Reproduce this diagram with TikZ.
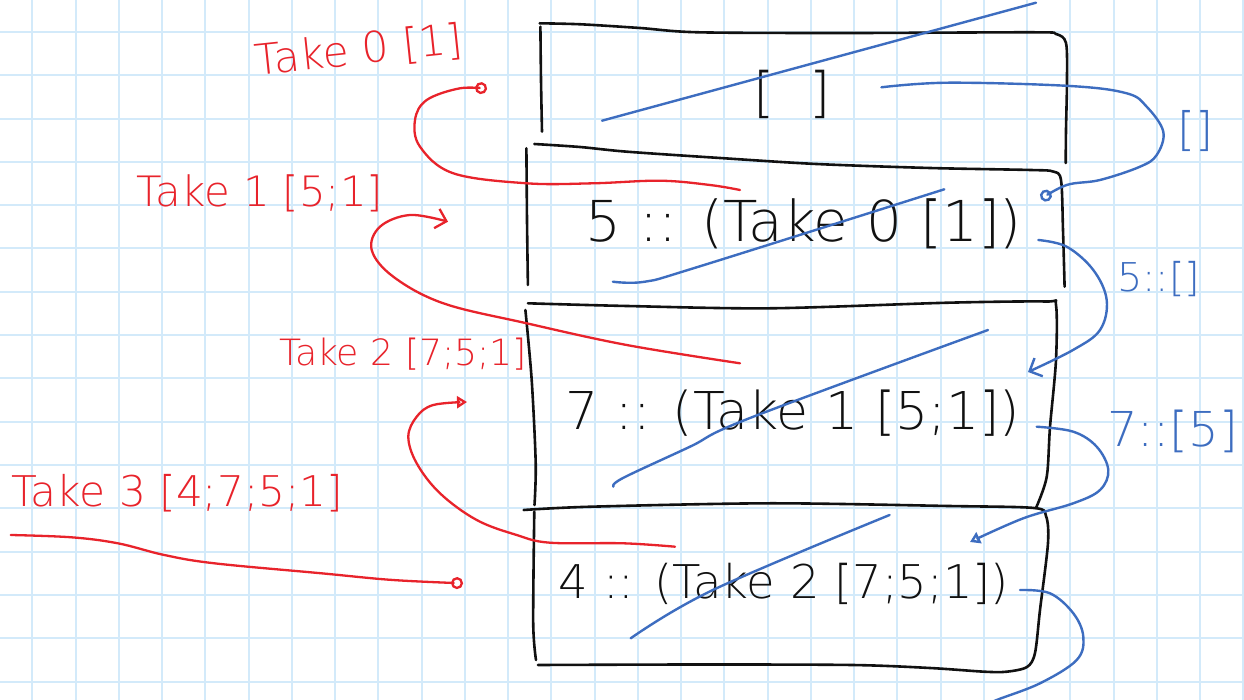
\documentclass[tikz,border=0pt]{standalone}
\usepackage{fontspec}
\usepackage{graphicx}
\usetikzlibrary{arrows.meta}
\IfFontExistsTF{DejaVuSans-ExtraLight.ttf}
  {\newfontfamily\handfont{DejaVuSans-ExtraLight.ttf}}
  {\IfFontExistsTF{DejaVu Sans ExtraLight}
    {\newfontfamily\handfont{DejaVu Sans ExtraLight}}
    {\newcommand\handfont{\sffamily}}}
\definecolor{ink}{HTML}{111111}
\definecolor{penred}{HTML}{E8232B}
\definecolor{penblue}{HTML}{3D6DC0}
\definecolor{gridblue}{HTML}{D3EAFA}
\newlength\pxu \setlength\pxu{0.5pt}
% #1 = width in px, #2 = measured height in px (for reference), #3 = text
\newcommand\hw[3]{\resizebox{#1\pxu}{!}{\handfont #3}}
\begin{document}
\begin{tikzpicture}[x=0.5pt,y=-0.5pt,
  gridline/.style={gridblue, line width=1pt},
  blackpen/.style={ink, line width=1.3pt, line cap=round, line join=round},
  redpen/.style={penred, line width=1.15pt, line cap=round, line join=round},
  bluepen/.style={penblue, line width=1.2pt, line cap=round, line join=round},
  redtxt/.style={penred, inner sep=0pt},
  bluetxt/.style={penblue, inner sep=0pt},
  blacktxt/.style={ink, inner sep=0pt},
  circtip/.style={-{Circle[open,length=6pt]}},
  barbtip/.style={-{Straight Barb[length=5pt,width=10pt]}},
  tritip/.style={-{Triangle[open,length=5pt,width=6pt]}}
]
\useasboundingbox (0,0) rectangle (1244,700);
\clip (0,0) rectangle (1244,700);
\fill[white] (0,0) rectangle (1244,700);
% grid paper
\foreach \i in {0,...,28} \draw[gridline] ({32.3+43.25*\i},0) -- ({32.3+43.25*\i},700);
\foreach \j in {0,...,15} \draw[gridline] (0,{32+43.3*\j}) -- (1244,{32+43.3*\j});

% ---------- black boxes (hand drawn) ----------
% box 1
\draw[blackpen] plot[smooth,tension=0.5] coordinates {(539.6,23.3) (580.7,24.3) (640,28) (698.6,32.3) (850,33) (1034,32.3) (1056,34) (1066,43) (1067,80) (1066,130) (1065.7,163)};
\draw[blackpen] plot[smooth,tension=0.5] coordinates {(540.4,26.7) (541,80) (542,131.7)};
% box 2
\draw[blackpen] plot[smooth,tension=0.5] coordinates {(534.3,144) (580,147) (627,151.7) (720,158) (816.4,164) (930,168) (1030.7,170) (1053,171.5) (1061,180) (1063,230) (1064.6,286.7)};
\draw[blackpen] plot[smooth,tension=0.5] coordinates {(526.4,148.3) (527,220) (527.9,285)};
% box 3
\draw[blackpen] plot[smooth,tension=0.5] coordinates {(527.9,303.3) (627,306) (770,308.3) (948.6,302.7) (1046,301.5) (1056,305) (1056,360) (1050,427) (1046.7,477) (1036,508)};
\draw[blackpen] plot[smooth,tension=0.5] coordinates {(525.4,310) (531.7,380) (535.7,463) (534.5,505)};
% box 4
\draw[blackpen] plot[smooth,tension=0.5] coordinates {(523.6,510) (591.4,506.7) (770,503.3) (948.6,506) (1034,508) (1046,516) (1048,543) (1040,610) (1035,653) (1027,667) (1006.7,671.7) (984.3,671.7) (930,668) (852,665) (700,664.5) (537.9,665)};
\draw[blackpen] plot[smooth,tension=0.5] coordinates {(534.3,511.7) (533.2,623) (536,660)};

% ---------- black texts ----------
\node[blacktxt] (b1) at (792,94) {\hw{77}{50}{[\ \ ]}};
\node[blacktxt] (b2) at (804,223.5) {\hw{436}{67}{5 :: (Take 0 [1])}};
\node[blacktxt] (b3) at (793,413.5) {\hw{454}{73}{7 :: (Take 1 [5;1])}};
\node[blacktxt] (b4) at (784,584) {\hw{450}{62}{4 :: (Take 2 [7;5;1])}};

% ---------- blue strike-throughs ----------
\draw[bluepen] (602,120.7) -- (1036,2.7);
\draw[bluepen] plot[smooth,tension=0.6] coordinates {(612.9,281.7) (645,281.7) (698.6,266.7) (944.3,189.3)};
\draw[bluepen] plot[smooth,tension=0.6] coordinates {(613.3,486.7) (623,478) (690,446.7) (750,418) (988,330)};
\draw[bluepen] plot[smooth,tension=0.6] coordinates {(630.7,638.3) (712.9,590) (889.6,515)};

% ---------- red labels ----------
\node[redtxt, rotate=6] (t0) at (359,51) {\hw{208}{38}{Take 0 [1]}};
\node[redtxt] (t1) at (260,193.5) {\hw{246}{43}{Take 1 [5;1]}};
\node[redtxt] (t2) at (403,354) {\hw{248}{42}{Take 2 [7;5;1]}};
\node[redtxt] (t3) at (177.5,493.5) {\hw{331}{53}{Take 3 [4;7;5;1]}};

% ---------- red arrows ----------
\coordinate (ra0s) at (740,190);   \coordinate (ra0e) at (487,89);
\coordinate (ra1s) at (740,363.3); \coordinate (ra1e) at (448,221.7);
\coordinate (ra2s) at (675,546.7); \coordinate (ra2e) at (467,402);
\coordinate (ra3s) at (10.7,535);  \coordinate (ra3e) at (463,583.3);
\draw[redpen, circtip] plot[smooth,tension=0.6] coordinates {(ra0s) (710,185) (660,180.7) (593.3,183.3) (526.7,183.3) (453.3,173.3) (420,146.7) (415,120) (426.7,100) (460,88.3) (ra0e)};
\draw[redpen, barbtip] plot[smooth,tension=0.6] coordinates {(ra1s) (626.7,345) (526.7,323.3) (443.3,303.3) (393.3,276.7) (371.7,250) (380,226.7) (410,215) (ra1e)};
\draw[redpen, tritip] plot[smooth,tension=0.6] coordinates {(ra2s) (623.3,543.3) (550,542.7) (516.7,535) (476.7,520) (440,493.3) (416.7,463.3) (408.3,436.7) (416.7,416.7) (433.3,405) (ra2e)};
\draw[redpen, circtip] plot[smooth,tension=0.6] coordinates {(ra3s) (71.4,537.3) (117.9,543.3) (164.3,555) (214.3,563.3) (321.4,573.3) (392.9,580) (ra3e)};

% ---------- blue labels ----------
\node[bluetxt] (l1) at (1195,131.5) {\hw{36}{37}{[]}};
\node[bluetxt] (l2) at (1158.5,279) {\hw{83}{32}{5::[]}};
\node[bluetxt] (l3) at (1172.5,431.5) {\hw{131}{47}{7::[5]}};

% ---------- blue arrows ----------
\coordinate (ba0s) at (881.4,87.3);   \coordinate (ba0e) at (1041,199);
\coordinate (ba1s) at (1038.3,240);   \coordinate (ba1e) at (1028,372);
\coordinate (ba2s) at (1036.7,426.7); \coordinate (ba2e) at (970,542);
\coordinate (ba3s) at (1020,590);     \coordinate (ba3e) at (985,706);
\draw[bluepen, circtip] plot[smooth,tension=0.6] coordinates {(ba0s) (948.6,82.7) (1070,86) (1126.7,93.3) (1146.7,106.7) (1163.3,131.7) (1156.7,155) (1140,166.7) (1100,180) (1066.7,185) (ba0e)};
\draw[bluepen, barbtip] plot[smooth,tension=0.6] coordinates {(ba1s) (1066.7,246.7) (1093.3,270) (1106.7,300) (1100,330) (1073,350) (ba1e)};
\draw[bluepen, tritip] plot[smooth,tension=0.6] coordinates {(ba2s) (1073.3,431.7) (1096.7,446.7) (1108.3,470) (1100,490) (1073.3,503.3) (1023.3,518.3) (ba2e)};
\draw[bluepen] plot[smooth,tension=0.6] coordinates {(ba3s) (1050,593.3) (1073.3,613.3) (1083.3,636.7) (1076.7,660) (1040,683.3) (996.7,700) (ba3e)};
\end{tikzpicture}
\end{document}
